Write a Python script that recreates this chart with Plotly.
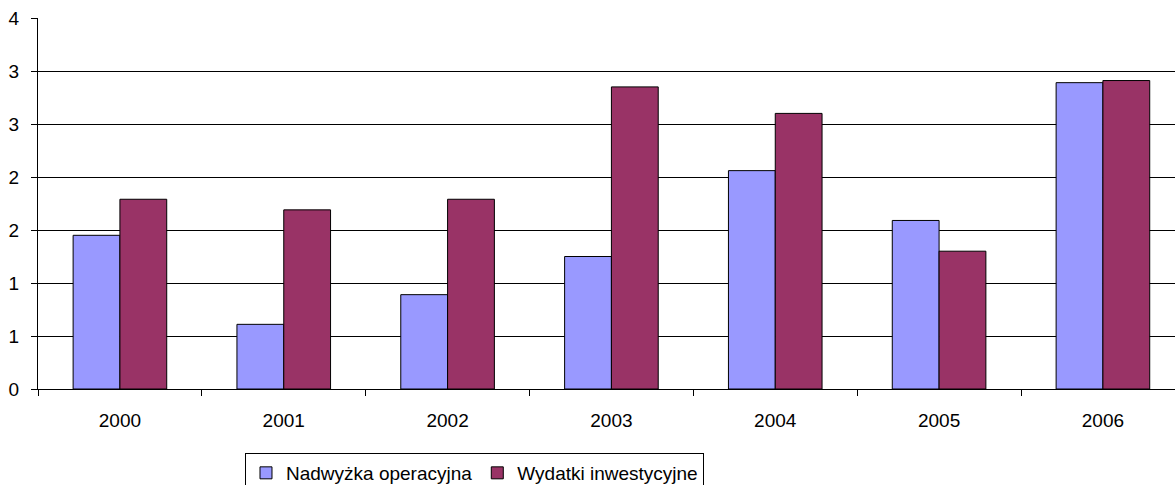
import plotly.graph_objects as go

# Dane
lata = ["2000", "2001", "2002", "2003", "2004", "2005", "2006"]
nadwyzka = [1.45, 0.61, 0.89, 1.25, 2.06, 1.59, 2.89]
wydatki = [1.79, 1.69, 1.79, 2.85, 2.60, 1.30, 2.91]
y_ticks = [0, 0.5, 1, 1.5, 2, 2.5, 3, 3.5]
y_tick_labels = ["0", "1", "1", "2", "2", "3", "3", "4"]

FONT = "Liberation Sans, Arial, sans-serif"

fig = go.Figure()
fig.add_trace(go.Bar(x=lata, y=nadwyzka, name="Nadwyżka operacyjna",
                     marker=dict(color="#9999FF", line=dict(color="#000000", width=1))))
fig.add_trace(go.Bar(x=lata, y=wydatki, name="Wydatki inwestycyjne",
                     marker=dict(color="#993366", line=dict(color="#000000", width=1))))

fig.update_layout(
    width=1175, height=485,
    margin=dict(l=38, r=0, t=18, b=96),
    paper_bgcolor="white", plot_bgcolor="white",
    font=dict(family=FONT, size=19, color="#000000"),
    barmode="group", bargap=0.4286, bargroupgap=0,
    showlegend=True,
    # legenda w ukladzie "container", zeby nie zjadala marginesu
    legend=dict(orientation="h", xref="container", yref="container",
                x=0.2085, y=0.066, xanchor="left", yanchor="top",
                bordercolor="#000000", borderwidth=1, bgcolor="white",
                font=dict(family=FONT, size=19), itemwidth=30, traceorder="normal"),
)
fig.update_xaxes(
    type="category", range=[-0.5, 6.44], automargin=False,
    showline=True, linecolor="#000000", linewidth=1,
    ticks="outside", tickson="boundaries", ticklen=6, tickcolor="#000000",
    tickfont=dict(family=FONT, size=19), ticklabelstandoff=14,
    showgrid=False,
)
fig.update_yaxes(
    range=[0, 3.5], tickvals=y_ticks, ticktext=y_tick_labels, automargin=False,
    showline=True, linecolor="#000000", linewidth=1,
    ticks="outside", ticklen=6, tickcolor="#000000",
    tickfont=dict(family=FONT, size=19), ticklabelstandoff=8,
    showgrid=True, gridcolor="#000000", gridwidth=1, zeroline=False,
)

# bez domyslnego marginesu body, wykres od lewego gornego rogu okna
fig.write_html("out.html", config={"displayModeBar": False},
               post_script="document.body.style.margin='0';")
